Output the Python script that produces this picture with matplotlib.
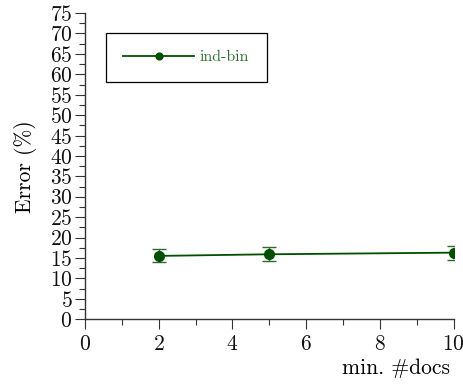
import matplotlib
matplotlib.use("Agg")
import matplotlib.pyplot as plt
from matplotlib.ticker import MultipleLocator

# data
min_docs = [2, 5, 10]
error = [15.5, 15.9, 16.3]
error_sd = [1.6, 1.75, 1.7]
series_label = "ind-bin"

plt.rcParams['font.family'] = 'serif'
plt.rcParams['font.serif'] = ['cmr10', 'DejaVu Serif']
plt.rcParams['mathtext.fontset'] = 'cm'
plt.rcParams['axes.formatter.use_mathtext'] = True

fig = plt.figure(figsize=(4.64, 3.85), dpi=100)
ax = fig.add_axes([0.183, 0.171, 0.795, 0.795])

line_col = '#004f00'
bar_col = '#2f6b2f'

ax.errorbar(min_docs, error, yerr=error_sd, fmt='none', ecolor=bar_col,
            elinewidth=1.0, capsize=5, capthick=1.0)
ax.plot(min_docs, error, color=line_col, lw=1.3, marker='o', ms=7,
        label=series_label)

ax.set_xlim(0, 10)
ax.set_ylim(0, 75)
ax.xaxis.set_major_locator(MultipleLocator(2))
ax.xaxis.set_minor_locator(MultipleLocator(1))
ax.yaxis.set_major_locator(MultipleLocator(5))
ax.yaxis.set_minor_locator(MultipleLocator(2.5))

for s in ['top', 'right']:
    ax.spines[s].set_visible(False)
for s in ['left', 'bottom']:
    ax.spines[s].set_color('#333333')
    ax.spines[s].set_linewidth(1.0)

ax.tick_params(which='major', direction='out', length=7, width=0.8,
               labelsize=15.5, colors='#333333', labelcolor='#111111', pad=2)
ax.tick_params(which='minor', direction='out', length=4, width=0.8,
               colors='#333333')
ax.tick_params(axis='x', pad=4)

ax.set_ylabel("Error (%)", fontsize=15.5, labelpad=9)
ax.set_xlabel("min. #docs", fontsize=15.5, loc='right', labelpad=2)
ax.xaxis.set_label_coords(0.99, -0.13)

leg = ax.legend(loc='upper left', bbox_to_anchor=(0.035, 0.962),
                fontsize=11.5, handlelength=4.4, handletextpad=0.4,
                borderpad=1.1, fancybox=False, framealpha=1, markerscale=0.7)
leg.get_frame().set_edgecolor('black')
leg.get_frame().set_linewidth(0.9)
for t in leg.get_texts():
    t.set_color('#2f6b2f')

fig.savefig("out.png", dpi=100)
